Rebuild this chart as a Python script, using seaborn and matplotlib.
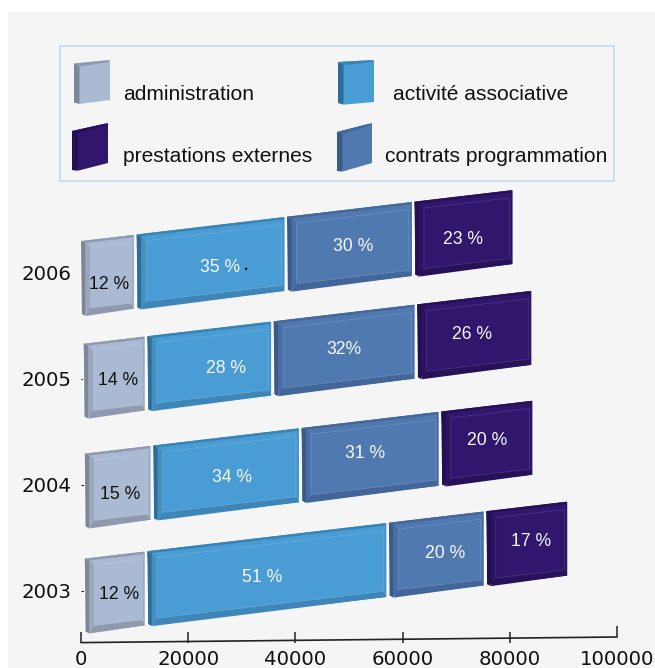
import pandas as pd
import seaborn as sns
import matplotlib.pyplot as plt
from matplotlib.patches import Polygon, Rectangle
from matplotlib.transforms import Affine2D

# values
years = ['2006', '2005', '2004', '2003']
administration = [9900, 11400, 12300, 11200]
activite = [27600, 23100, 27200, 44600]
contrats = [23300, 26300, 25600, 17700]
prestations = [18300, 21300, 17000, 15100]

labels_admin = ['12 %', '14 %', '15 %', '12 %']
labels_activite = ['35 %', '28 %', '34 %', '51 %']
labels_contrats = ['30 %', '32%', '31 %', '20 %']
labels_prestations = ['23 %', '26 %', '20 %', '17 %']

xticks = [0, 20000, 40000, 60000, 80000, 100000]

# layout, in pixels of the 655x668 picture
W, H = 655, 668
SLOPE = 0.118
X0 = 81
ROW_SHIFT = [5, 2, 6, 5]
ROW_START = [0, 500, 700, 700]
GAP = 470
# label position relative to the bar centre, one line per series
NUDGE = [[(2, 8), (4, 2), (2, 6), (4, 1)],
         [(10, 3), (17, 1), (6, 2), (-5, 2)],
         [(4, -1), (0, -2), (-5, -5), (9, -2)],
         [(0, 5), (-2, -2), (0, -4), (4, -3)]]

# main, side, top strip, bottom band, light line
ADMIN_C = ['#A9BAD2', '#7D8799', '#8F9AAE', '#8E99AD', '#B8C8E2']
ACTIV_C = ['#4A9CD4', '#2F6D96', '#3A84B4', '#3D86B7', '#7DB9E4']
CONTR_C = ['#5079B0', '#3A5A87', '#44689A', '#42659A', '#7F9FCB']
PREST_C = ['#31166E', '#240F50', '#261158', '#271159', '#5F4C95']

sns.set_theme(style='white')
plt.rcParams['font.family'] = ['DejaVu Sans']

fig = plt.figure(figsize=(W / 100, H / 100), dpi=100, facecolor='white')
pix = Affine2D().scale(1, -1).translate(0, H)
fig.patches.append(Rectangle((8, 12), W, H, transform=pix, facecolor='#F5F5F5',
                             edgecolor='none', figure=fig, zorder=-5))

AX_TOP, AX_BOT = 273, 640
ax = fig.add_axes([81 / W, 1 - AX_BOT / H, (617 - 81) / W, (AX_BOT - AX_TOP) / H])
ax.patch.set_visible(False)

df = pd.DataFrame({'annee': years, 'administration': administration, 'activite': activite,
                   'contrats': contrats, 'prestations': prestations})

left = list(ROW_START)
series = [('administration', ADMIN_C), ('activite', ACTIV_C), ('contrats', CONTR_C), ('prestations', PREST_C)]
texts = [labels_admin, labels_activite, labels_contrats, labels_prestations]
bars = []
for name, cols in series:
    n_before = len(ax.patches)
    sns.barplot(data=df, y='annee', x=name, order=years, orient='h', color=cols[0], saturation=1,
                width=74 / 106, left=left, ax=ax)
    bars.append(ax.patches[n_before:])
    left = [a + b + GAP for a, b in zip(left, df[name])]

ax.set_xlim(0, 100000)
ax.set_ylim((AX_BOT - AX_TOP) / 106, 0)


def add_poly(pts, color, z=3.0, **kw):
    ax.add_patch(Polygon(pts, closed=True, transform=pix, facecolor=color, edgecolor='none',
                         clip_on=False, zorder=z, **kw))


def add_edge(pts, color):
    ax.add_patch(Polygon(pts, closed=True, transform=pix, facecolor='none', edgecolor=color,
                         lw=0.5, alpha=0.65, clip_on=False, zorder=3.3))


def draw_bevel(x0, x1, ytl, ytr, h, cols):
    # side strip, top strip and the chamfered front of one box
    s = 4.5
    t = 2.5
    ins_l, ins_r, ins_t, ins_b = 5, 3, 5, 6
    k = (ytl - ytr) / (x1 - x0)
    yt = lambda x: ytl - k * (x - x0)
    a = x0 + s
    b = x1
    add_poly([(x0, yt(x0)), (b, yt(b)), (b, yt(b) + h), (a, yt(a) + h)], cols[0], z=2.9)
    add_poly([(x0, yt(x0)), (a, yt(a) + t), (a, yt(a) + h + 1.5), (x0 + 1, yt(x0) + h - 1)], cols[1])
    add_poly([(x0, yt(x0)), (b - 1, yt(b - 1)), (b, yt(b) + t), (a, yt(a) + t)], cols[2])
    il, ir = a + ins_l, b - ins_r
    it = t + ins_t
    ib = h - ins_b
    add_poly([(a, yt(a) + h + 1.5), (il, yt(il) + ib), (ir, yt(ir) + ib), (b, yt(b) + h)], cols[3])
    add_poly([(a, yt(a) + t), (il, yt(il) + it), (il, yt(il) + ib), (a, yt(a) + h + 1.5)], cols[3], alpha=0.55)
    add_poly([(b, yt(b) + t), (ir, yt(ir) + it), (ir, yt(ir) + ib), (b, yt(b) + h)], cols[3], alpha=0.3)
    add_edge([(il, yt(il) + it), (ir, yt(ir) + it), (ir, yt(ir) + ib), (il, yt(il) + ib)], cols[4])


for s_i, (name, cols) in enumerate(series):
    for r_i, patch in enumerate(bars[s_i]):
        shift = Affine2D().translate(0, -ROW_SHIFT[r_i])
        skew = Affine2D([[1, 0, 0], [SLOPE, 1, -SLOPE * X0], [0, 0, 1]])
        trans = ax.transData + shift + skew
        patch.set_transform(trans)
        patch.set_clip_on(False)
        (xa, ya), (xb, yb) = trans.transform([(patch.get_x(), patch.get_y()),
                                              (patch.get_x() + patch.get_width(), patch.get_y())])
        draw_bevel(xa, xb, H - ya, H - yb, patch.get_height() * 106, cols)
        # label goes at the bar centre, moved a little as in the original
        cx, cy = trans.transform((patch.get_x() + patch.get_width() / 2, patch.get_y() + patch.get_height() / 2))
        dx, dy = NUDGE[s_i][r_i]
        ax.text(cx + dx, H - cy + dy + 1.5, texts[s_i][r_i], transform=pix, ha='center', va='center',
                family='Liberation Sans', fontsize=12.7, zorder=4,
                color='#111111' if s_i == 0 else '#F7F8FC')
ax.text(246, 266, '.', transform=pix, ha='center', va='center', fontsize=11, fontweight='bold',
        color='black', family='Liberation Sans', zorder=4)

# axis line and ticks
for sp in ax.spines.values():
    sp.set_visible(False)
ax.set_xlabel('')
ax.set_ylabel('')
ax.set_xticks(xticks)
ax.set_xticklabels([str(v) for v in xticks])
ax.tick_params(axis='x', length=0, pad=7, labelsize=14.2, labelcolor='#111111')
ax.tick_params(axis='y', left=True, direction='in', length=2.5, width=0.8, color='#222222',
               pad=6.5, labelsize=14.2, labelcolor='#111111')
to_y = lambda px: (px - AX_TOP) / 106
ax.plot([0, 100000], [to_y(642.6), to_y(637)], color='#222222', lw=1.2, clip_on=False, zorder=3)
ax.vlines(xticks[:-1], to_y(632), to_y(643), color='#222222', lw=1.1, clip_on=False, zorder=3)
ax.vlines(xticks[-1:], to_y(626), to_y(637), color='#222222', lw=1.1, clip_on=False, zorder=3)

# legend, drawn by hand because the boxes are small 3d blocks
ax.add_patch(Rectangle((60, 46), 554, 135, transform=pix, facecolor='none', edgecolor='#C6D7EF',
                       lw=1.2, clip_on=False))


def legend_box(x0, x1, ytl, ytr, h, cols):
    s = 5.5
    k = (ytl - ytr) / (x1 - x0)
    yt = lambda x: ytl - k * (x - x0)
    a = x0 + s
    add_poly([(x0, yt(x0)), (x1, yt(x1)), (x1, yt(x1) + h), (a, yt(a) + h + 1)], cols[0], z=2.9)
    add_poly([(x0, yt(x0)), (a, yt(a) + 3.5), (a, yt(a) + h + 1), (x0, yt(x0) + h - 1)], cols[1])
    add_poly([(x0, yt(x0)), (x1 - 3, yt(x1 - 3)), (x1, yt(x1) + 2), (a, yt(a) + 3.5)], cols[2])


legend_box(74, 110, 63.5, 60, 40, ADMIN_C)
legend_box(338, 374, 62, 60, 42, ACTIV_C)
legend_box(72, 108, 131, 123, 40, PREST_C)
legend_box(337, 372, 132, 123, 40, CONTR_C)

names = ['administration', 'activité associative', 'prestations externes', 'contrats programmation']
spots = [(123, 95), (393, 95), (123, 157), (385, 157)]
for label, (tx, ty) in zip(names, spots):
    ax.text(tx, ty, label, transform=pix, ha='left', va='center', family='Liberation Sans',
            fontsize=15.1, color='#111111', clip_on=False)

fig.savefig('out.png', dpi=100, facecolor='white')
